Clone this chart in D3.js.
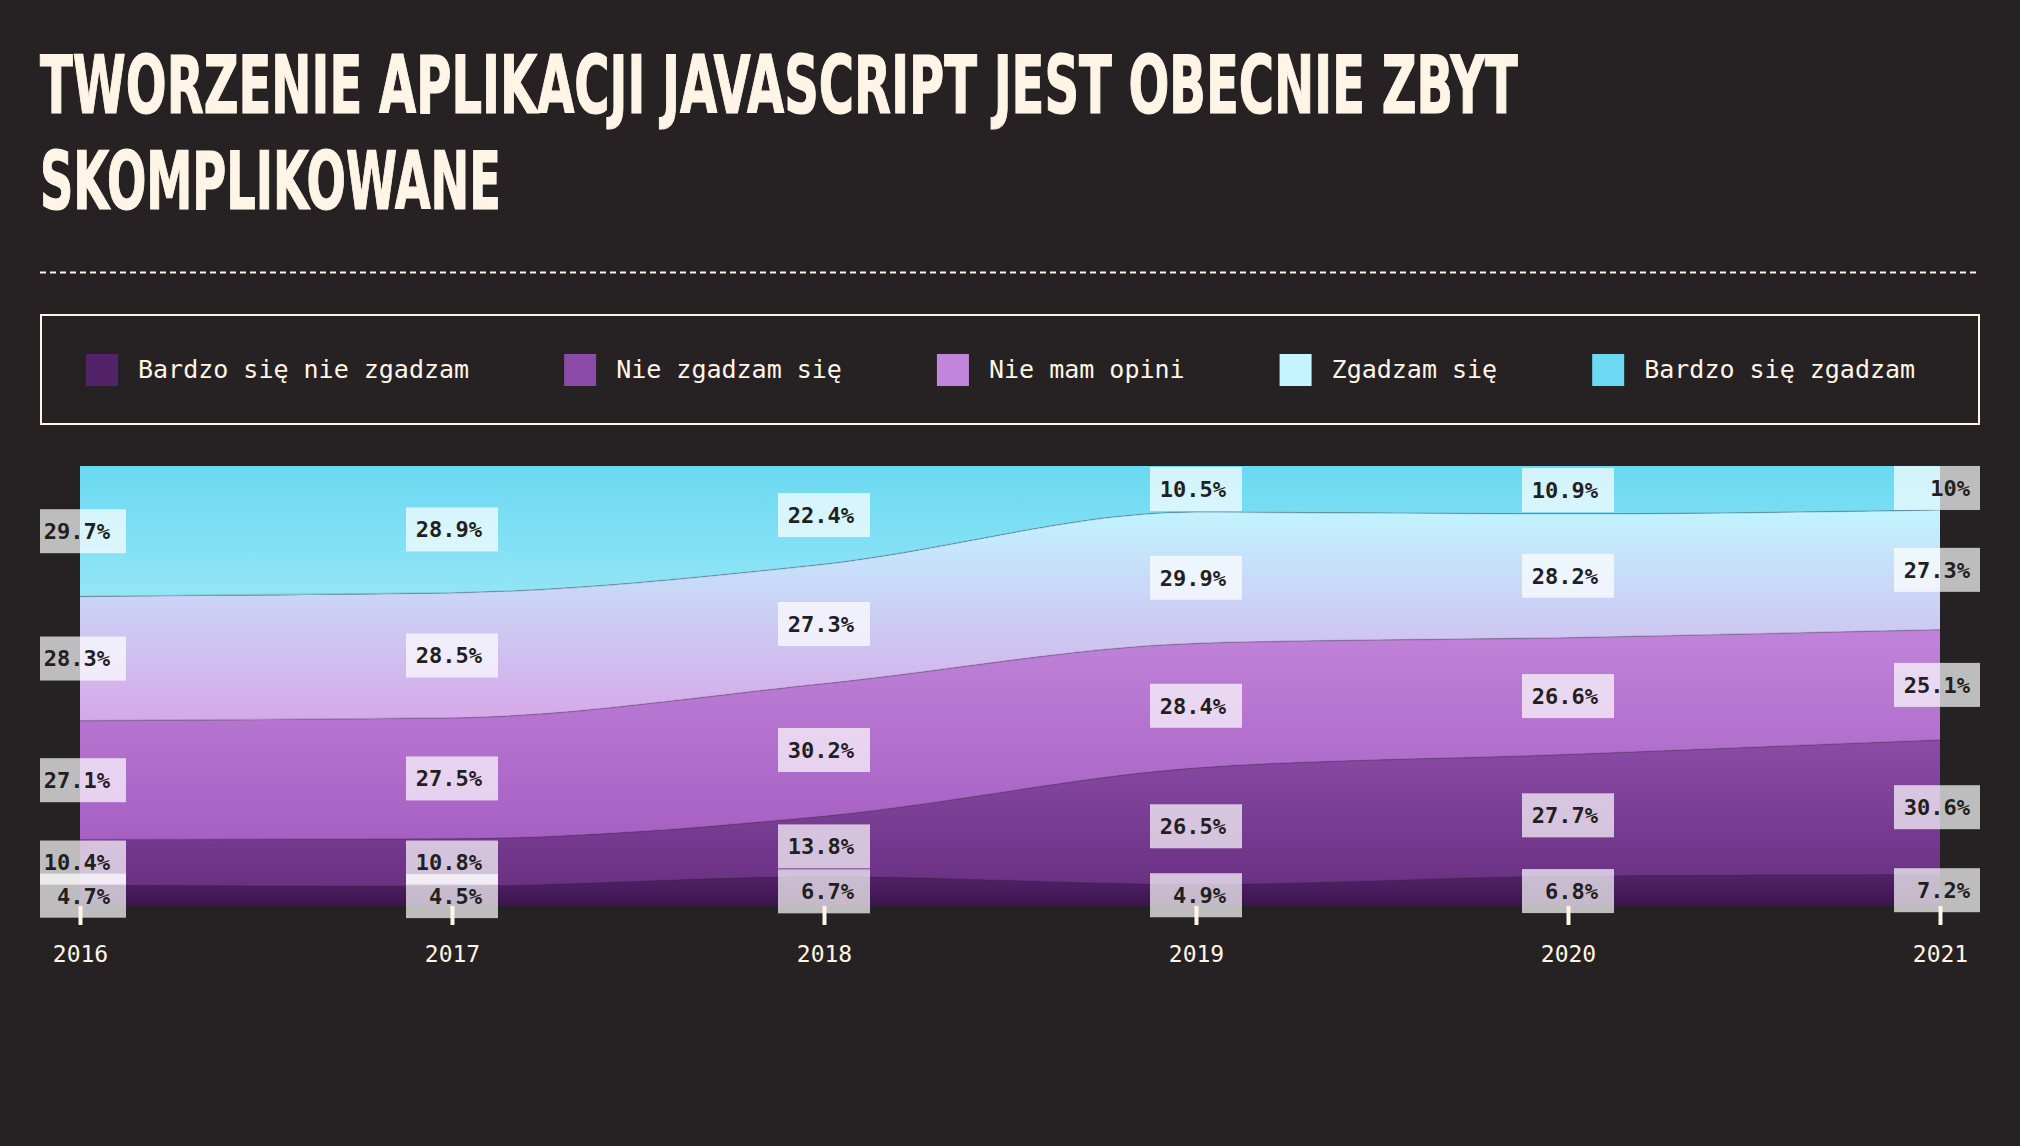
<!DOCTYPE html>
<html>
<head>
<meta charset="utf-8">
<script src="https://cdn.jsdelivr.net/npm/d3@7"></script>
<style>
  html, body { margin: 0; padding: 0; background: #262224; }
  svg { display: block; }
</style>
</head>
<body>
<svg id="chart" width="2020" height="1146"></svg>
<script>
// ---- data ----
const titleLines = ["TWORZENIE APLIKACJI JAVASCRIPT JEST OBECNIE ZBYT", "SKOMPLIKOWANE"];
const years = ["2016", "2017", "2018", "2019", "2020", "2021"];
const seriesNames = ["Bardzo się nie zgadzam", "Nie zgadzam się", "Nie mam opini", "Zgadzam się", "Bardzo się zgadzam"];
const stronglyDisagree = [4.7, 4.5, 6.7, 4.9, 6.8, 7.2];
const disagree = [10.4, 10.8, 13.8, 26.5, 27.7, 30.6];
const neutral = [27.1, 27.5, 30.2, 28.4, 26.6, 25.1];
const agree = [28.3, 28.5, 27.3, 29.9, 28.2, 27.3];
const stronglyAgree = [29.7, 28.9, 22.4, 10.5, 10.9, 10];
const seriesValues = [stronglyDisagree, disagree, neutral, agree, stronglyAgree];
const legendColors = ["#53236a", "#8b4ba6", "#c186dc", "#c4f5fe", "#6bd9f2"];
const gradTop = ["#52226a", "#8b4ba6", "#c183d9", "#c1f4ff", "#6ad9f2"];
const gradBottom = ["#3c154d", "#6a3183", "#a660c3", "#d6a8e9", "#93e5f6"];

const CREAM = "#fff5e6";
const BG = "#262224";

const rows = years.map((y, i) => {
  const r = { year: y };
  seriesNames.forEach((n, k) => r[n] = seriesValues[k][i]);
  return r;
});

const svg = d3.select("#chart");
svg.append("rect").attr("width", 2020).attr("height", 1146).attr("fill", BG);

// ---- title ----
const titleFont = "'DejaVu Sans Condensed', 'Liberation Sans Narrow', 'DejaVu Sans', sans-serif";
const titleSpecs = [{ y: 113, w: 1478 }, { y: 209, w: 461 }];
titleLines.forEach((t, i) => {
  const g = svg.append("g");
  const txt = g.append("text")
    .attr("x", 0).attr("y", 0)
    .attr("fill", CREAM)
    .attr("stroke", CREAM).attr("stroke-width", 1.2)
    .attr("font-family", titleFont)
    .attr("font-weight", 700)
    .attr("font-size", 80)
    .text(t);
  const natural = txt.node().getComputedTextLength();
  g.attr("transform", `translate(40,${titleSpecs[i].y}) scale(${titleSpecs[i].w / natural},1)`);
});

// ---- dashed rule ----
svg.append("line")
  .attr("x1", 40).attr("x2", 1980).attr("y1", 272.5).attr("y2", 272.5)
  .attr("stroke", CREAM).attr("stroke-width", 2)
  .attr("stroke-dasharray", "6 4");

// ---- legend ----
svg.append("rect")
  .attr("x", 41).attr("y", 315).attr("width", 1938).attr("height", 109)
  .attr("fill", "none").attr("stroke", CREAM).attr("stroke-width", 2);

const monoFont = "'DejaVu Sans Mono', 'Liberation Mono', monospace";
let lx = 86;
seriesNames.forEach((n, k) => {
  const g = svg.append("g").attr("transform", `translate(${lx},0)`);
  g.append("rect").attr("x", 0).attr("y", 354).attr("width", 32).attr("height", 32)
    .attr("fill", legendColors[k]);
  const t = g.append("text").attr("x", 52).attr("y", 378)
    .attr("fill", CREAM).attr("font-family", monoFont).attr("font-size", 25)
    .text(n);
  const w = t.node().getComputedTextLength();
  lx += 52 + w + 95;
});

// ---- chart ----
const x = d3.scalePoint().domain(years).range([80, 1940]);
const y = d3.scaleLinear().domain([0, 1]).range([906, 466]);

const stack = d3.stack().keys(seriesNames).offset(d3.stackOffsetExpand);
const layers = stack(rows);

const defs = svg.append("defs");
layers.forEach((L, k) => {
  const gr = defs.append("linearGradient").attr("id", "grad" + k)
    .attr("x1", 0).attr("y1", 0).attr("x2", 0).attr("y2", 1);
  gr.append("stop").attr("offset", "0%").attr("stop-color", gradTop[k]);
  gr.append("stop").attr("offset", "100%").attr("stop-color", gradBottom[k]);
});

const area = d3.area()
  .x(d => x(d.data.year))
  .y0(d => y(d[0]))
  .y1(d => y(d[1]))
  .curve(d3.curveMonotoneX);

svg.append("g").selectAll("path").data(layers).join("path")
  .attr("d", area)
  .attr("fill", (d, k) => `url(#grad${k})`);

const edge = d3.line()
  .x(d => x(d.data.year))
  .y(d => y(d[1]))
  .curve(d3.curveMonotoneX);

svg.append("g").selectAll("path").data(layers.slice(0, 4)).join("path")
  .attr("d", edge)
  .attr("fill", "none")
  .attr("stroke", "rgba(40,30,60,0.22)")
  .attr("stroke-width", 1.5);

// ---- value labels ----
const labelsG = svg.append("g");
const fmt = v => `${v}%`;
layers.forEach((L, k) => {
  L.forEach((d, i) => {
    const cx = x(d.data.year);
    const cy = y((d[0] + d[1]) / 2);
    const left = Math.max(40, cx - 46);
    const right = Math.min(1980, cx + 46);
    labelsG.append("rect")
      .attr("x", left).attr("y", cy - 22)
      .attr("width", right - left).attr("height", 44)
      .attr("fill", "#ffffff").attr("fill-opacity", 0.7);
    labelsG.append("text")
      .attr("x", cx + 30).attr("y", cy)
      .attr("dy", "0.36em")
      .attr("text-anchor", "end")
      .attr("fill", "#231f20")
      .attr("font-family", monoFont)
      .attr("font-weight", 700)
      .attr("font-size", 22)
      .text(fmt(seriesValues[k][i]));
  });
});

// ---- x axis ----
const axis = d3.axisBottom(x).tickSizeInner(19).tickSizeOuter(0).tickPadding(21);
const ax = svg.append("g").attr("transform", "translate(0,906)").call(axis);
ax.select(".domain").remove();
ax.selectAll(".tick line").attr("stroke", CREAM).attr("stroke-width", 4);
ax.selectAll(".tick text")
  .attr("fill", CREAM)
  .attr("font-family", monoFont)
  .attr("font-size", 23);
</script>
</body>
</html>
